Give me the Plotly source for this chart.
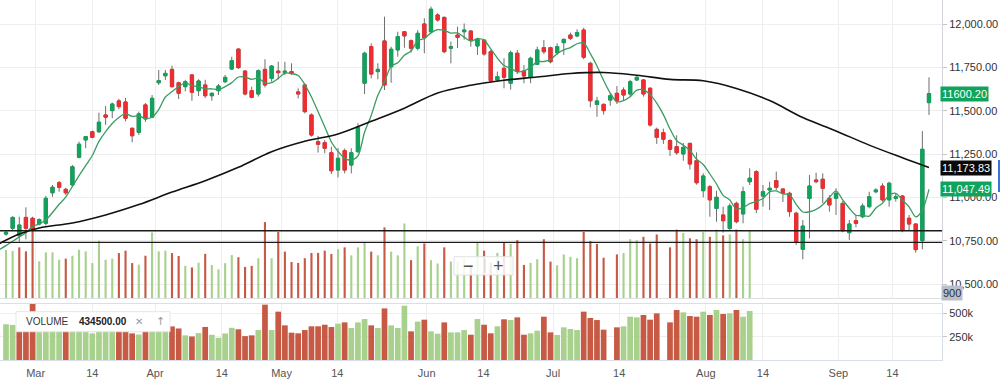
import plotly.graph_objects as go
import pandas as pd

# ---------------- data ----------------
open_ = [10790, 10823, 10780, 10886, 10881, 10848, 10852, 11028, 11086, 11048,
         11073, 11233, 11333, 11380, 11380, 11477, 11502, 11558, 11552, 11400,
         11377, 11535, 11464, 11663, 11703, 11740, 11663, 11640, 11708, 11617,
         11650, 11588, 11617, 11669, 11742, 11857, 11730, 11617, 11598, 11740,
         11688, 11730, 11721, 11727, 11610, 11650, 11477, 11323, 11317, 11259,
         11159, 11271, 11188, 11265, 11660, 11871, 11727, 11904, 11755, 11852,
         11957, 11905, 11862, 12002, 11957, 12054, 12040, 11862, 11938, 11957,
         11961, 11875, 11909, 11842, 11679, 11746, 11660, 11833, 11730, 11694,
         11769, 11865, 11865, 11836, 11894, 11938, 11933, 11967, 11775, 11538,
         11538, 11563, 11602, 11621, 11598, 11679, 11679, 11631, 11394, 11375,
         11329, 11294, 11252, 11313, 11213, 11040, 11063, 10938, 10900, 10823,
         10967, 10906, 11092, 11150, 11009, 11044, 11098, 11050, 11025, 10910,
         10702, 10995, 11102, 11106, 10996, 10996, 10967, 10798, 10867, 10890,
         10948, 11034, 11067, 10987, 10996, 11009, 10881, 10848, 10752, 11548]
high = [10810, 10892, 10890, 10944, 10890, 10880, 11010, 11073, 11096, 11057,
        11188, 11323, 11356, 11387, 11490, 11529, 11548, 11570, 11575, 11405,
        11496, 11546, 11592, 11736, 11736, 11761, 11669, 11680, 11713, 11683,
        11680, 11606, 11656, 11708, 11813, 11861, 11736, 11640, 11740, 11798,
        11765, 11784, 11784, 11775, 11630, 11660, 11486, 11356, 11333, 11294,
        11285, 11283, 11285, 11429, 11842, 11890, 11775, 12044, 11871, 11957,
        11957, 11913, 11966, 12035, 12102, 12064, 12044, 11900, 11986, 12005,
        11967, 11923, 11913, 11852, 11727, 11804, 11848, 11852, 11765, 11813,
        11871, 11909, 11871, 11890, 11919, 11952, 11971, 11980, 11784, 11582,
        11544, 11602, 11644, 11636, 11680, 11708, 11683, 11636, 11404, 11398,
        11337, 11360, 11315, 11317, 11261, 11140, 11073, 11040, 10948, 10967,
        10977, 11063, 11169, 11159, 11073, 11092, 11150, 11050, 11034, 10919,
        10871, 11131, 11144, 11140, 11015, 11054, 10980, 10871, 10900, 10967,
        11034, 11054, 11083, 11092, 11025, 11015, 10900, 10852, 11384, 11694]
low = [10780, 10810, 10746, 10760, 10805, 10840, 10840, 11005, 11034, 11015,
       11063, 11227, 11285, 11342, 11374, 11420, 11458, 11510, 11440, 11319,
       11362, 11437, 11458, 11650, 11679, 11636, 11569, 11613, 11559, 11586,
       11575, 11559, 11592, 11660, 11736, 11742, 11590, 11573, 11583, 11636,
       11669, 11683, 11707, 11707, 11573, 11486, 11352, 11260, 11256, 11136,
       11117, 11140, 11140, 11259, 11598, 11688, 11683, 11621, 11663, 11813,
       11865, 11838, 11850, 11833, 11948, 12015, 11833, 11775, 11863, 11911,
       11871, 11823, 11819, 11663, 11673, 11631, 11623, 11713, 11660, 11660,
       11765, 11829, 11775, 11823, 11823, 11909, 11925, 11798, 11521, 11467,
       11479, 11530, 11540, 11563, 11583, 11673, 11583, 11410, 11310, 11310,
       11240, 11248, 11213, 11163, 11075, 11002, 10890, 10861, 10798, 10813,
       10852, 10852, 11073, 10910, 10948, 10929, 11044, 10975, 10890, 10727,
       10644, 10765, 11083, 10969, 10919, 10900, 10800, 10756, 10829, 10881,
       10938, 11025, 10977, 10948, 10977, 10800, 10813, 10683, 10702, 11477]
close = [10800, 10886, 10842, 10823, 10819, 10873, 10996, 11060, 11060, 11028,
         11178, 11308, 11352, 11348, 11435, 11464, 11540, 11525, 11458, 11357,
         11483, 11454, 11573, 11675, 11717, 11640, 11602, 11669, 11608, 11673,
         11588, 11602, 11644, 11694, 11790, 11750, 11598, 11579, 11732, 11650,
         11759, 11721, 11730, 11717, 11598, 11496, 11361, 11308, 11285, 11155,
         11227, 11159, 11259, 11406, 11833, 11713, 11740, 11650, 11856, 11929,
         11933, 11862, 11948, 11923, 12087, 12025, 11842, 11871, 11925, 11967,
         11909, 11913, 11829, 11675, 11698, 11694, 11836, 11727, 11702, 11804,
         11852, 11842, 11784, 11871, 11913, 11919, 11952, 11810, 11559, 11558,
         11502, 11588, 11558, 11592, 11669, 11694, 11598, 11419, 11348, 11337,
         11279, 11259, 11290, 11194, 11086, 11125, 10987, 11002, 10867, 10952,
         10861, 11034, 11112, 10933, 11034, 11054, 11060, 11025, 10919, 10746,
         10836, 11067, 11092, 11054, 10958, 11025, 10809, 10848, 10852, 10952,
         11005, 11044, 10987, 11083, 11005, 10810, 10848, 10700, 11279, 11600.20]

# volume in thousands (None = no bar)
volume_k = [383, 376, 403, 373, 605, 298, 365, 365, 310, 318,
            340, 385, 373, 285, 453, 310, 318, 360, 378, 285,
            273, 340, 515, 373, 378, 360, 338, 264, 252, 288,
            354, 270, 238, 284, 345, 329, 256, 264, 321, 593,
            321, 518, 371, 293, 286, 321, 361, 361, 378, 353,
            389, 403, 343, 403, 439, 371, 343, 553, 371, 343,
            582, 307, 411, 432, 307, 282, 403, 296, 296, 321,
            271, 439, 378, 286, 361, 436, 428, 457, 271, 286,
            314, 464, 296, 268, 350, 332, 321, 518, 450, 428,
            325, None, 350, 361, 464, 457, 482, 432, 500, None,
            403, 536, 511, 471, 464, 518, 482, 536, 493, 500,
            536, 464, 525]
# g = up day, r = down day, - = no bar
volume_dir = ("ggrrrggggr" "gggggggrrr" "grgggrrgrg" "rggggrrrgr" "grrrrrrrrr"
              "grgggrgrgg" "grgrggrggg" "rgrrgrgrrg" "grrggggrrr" "r-rgggrrr-"
              "rrgrrgrgrg" "rgg")

# long moving average (black) read at sample positions
black_idx = [-1, 2, 5, 10, 15, 20, 25, 30, 35, 40, 45, 50, 55, 60, 65, 70, 75,
             80, 85, 90, 95, 100, 105, 110, 115, 120, 125, 130, 135, 139]
black_val = [10735, 10790, 10825, 10854, 10900, 10960, 11032, 11098, 11175,
             11265, 11325, 11367, 11440, 11516, 11604, 11648, 11677, 11696,
             11716, 11722, 11706, 11682, 11674, 11630, 11560, 11462, 11385,
             11303, 11230, 11173.83]

# short moving average: first points (before 5 visible closes exist)
ma_lead_idx = [-1, 0, 1, 2, 3]
ma_lead_val = [10700, 10723, 10748, 10773, 10797]
ma_last_label = 11047.49

hlines = [10809, 10742]

tick_pos = [4.47, 13.0, 22.45, 32.5, 41.5, 49.9, 63.35, 71.9, 82.4, 92.35,
            105.4, 114.0, 125.35, 133.5]
tick_text = ["Mar", "14", "Apr", "14", "May", "14", "Jun", "14", "Jul", "14",
             "Aug", "14", "Sep", "14"]
price_ticks = [10500, 10750, 11000, 11250, 11500, 11750, 12000]
vol_ticks = [250000, 500000]
vol_tick_text = ["250k", "500k"]
legend_name = "VOLUME"
legend_value = "434500.00"
cursor_label = "900"

# ---------------- styling ----------------
GREEN = "#10a35b"
RED = "#ee2d31"
WICK = "#6e6e6e"
VGREEN = "#a9d18e"
VRED = "#c65a45"
GRID = "#eeeeee"
FONT = "Liberation Sans, Arial, sans-serif"

n = len(close)
idx = list(range(n))
body_hi = [max(o, c) for o, c in zip(open_, close)]
body_lo = [min(o, c) for o, c in zip(open_, close)]

vol_x = [i for i, d in enumerate(volume_dir) if d != "-"]
vol_y = [volume_k[i] * 1000 for i in vol_x]
vol_c = [VGREEN if volume_dir[i] == "g" else VRED for i in vol_x]

ma = pd.Series(close).rolling(5).mean()
ma_x = ma_lead_idx + idx[4:]
ma_y = ma_lead_val + list(ma.iloc[4:])

fig = go.Figure()

# volume drawn faintly inside the price pane
fig.add_trace(go.Bar(x=vol_x, y=vol_y, marker=dict(color=vol_c, line=dict(width=0)),
                     width=0.32, xaxis="x", yaxis="y", hoverinfo="skip"))

# wicks
fig.add_trace(go.Candlestick(
    x=idx, open=open_, high=high, low=low, close=close, xaxis="x", yaxis="y2",
    increasing=dict(line=dict(color=WICK, width=1), fillcolor=WICK),
    decreasing=dict(line=dict(color=WICK, width=1), fillcolor=WICK),
    whiskerwidth=0, hoverinfo="skip"))
# coloured bodies
fig.add_trace(go.Candlestick(
    x=idx, open=open_, high=body_hi, low=body_lo, close=close, xaxis="x", yaxis="y2",
    increasing=dict(line=dict(color=GREEN, width=1), fillcolor=GREEN),
    decreasing=dict(line=dict(color=RED, width=1), fillcolor=RED),
    whiskerwidth=0, hoverinfo="skip"))

fig.add_trace(go.Scatter(x=ma_x, y=ma_y, mode="lines", xaxis="x", yaxis="y2",
                         line=dict(color="#3b9c60", width=1.3, shape="spline", smoothing=0.8),
                         hoverinfo="skip"))
fig.add_trace(go.Scatter(x=black_idx, y=black_val, mode="lines", xaxis="x", yaxis="y2",
                         line=dict(color="#111111", width=1.6, shape="spline", smoothing=1.0),
                         hoverinfo="skip"))

# lower volume pane
fig.add_trace(go.Bar(x=vol_x, y=vol_y, marker=dict(color=vol_c, line=dict(width=0)),
                     width=0.86, xaxis="x2", yaxis="y3", hoverinfo="skip"))

H_PLOT = 360.0
def py(pix):
    return (H_PLOT - pix) / H_PLOT
def px(pix):
    return pix / 942.0

shapes = []
for h in hlines:
    shapes.append(dict(type="line", xref="paper", yref="y2", x0=0, x1=1, y0=h, y1=h,
                       line=dict(color="#1a1a1a", width=1.4)))
# zoom control
shapes.append(dict(type="rect", xref="paper", yref="paper", x0=px(454), x1=px(513),
                   y0=py(275), y1=py(256.7), fillcolor="rgba(255,255,255,0.85)",
                   line=dict(color="#e2e2e2", width=1)))
shapes.append(dict(type="line", xref="paper", yref="paper", x0=px(485), x1=px(485),
                   y0=py(273), y1=py(259), line=dict(color="#d2d2d2", width=1)))
# legend box
shapes.append(dict(type="rect", xref="paper", yref="paper", x0=px(16), x1=px(170),
                   y0=py(331.7), y1=py(311.7), fillcolor="white",
                   line=dict(color="#e6e6e6", width=1)))
# small blue element at far right
shapes.append(dict(type="line", xref="paper", yref="paper", x0=px(999), x1=px(999),
                   y0=py(192), y1=py(160), line=dict(color="#3b73d9", width=2)))

ann = []
def price_tag(val, text, bg, fg="white"):
    return dict(xref="paper", yref="y2", x=1, y=val, xanchor="left", yanchor="middle",
                xshift=-2, text=text, showarrow=False, bgcolor=bg, borderpad=1,
                font=dict(family=FONT, size=11, color=fg))
def label(xp, yp, text, size, color, family=FONT, xanchor="center"):
    return dict(xref="paper", yref="paper", x=px(xp), y=py(yp), xanchor=xanchor,
                yanchor="middle", text=text, showarrow=False,
                font=dict(family=family, size=size, color=color))
ann.append(price_tag(close[-1], f"{close[-1]:.2f}", GREEN))
ann.append(price_tag(black_val[-1], f"{black_val[-1]:,.2f}", "#0a0a0a"))
ann.append(price_tag(ma_last_label, f"{ma_last_label:,.2f}", GREEN))
ann.append(dict(xref="paper", yref="paper", x=1, y=py(293), xanchor="left", yanchor="middle",
                xshift=-1, text=cursor_label, showarrow=False, bgcolor="#b9bfca", borderpad=1,
                font=dict(family=FONT, size=11, color="#2c323c")))
ann.append(label(468.5, 266, "−", 18, "#555555"))
ann.append(label(498.5, 266, "+", 18, "#555555"))
ann.append(label(24, 321.7, legend_name, 10, "#333333", xanchor="left"))
ann.append(label(77, 321.7, "<b>" + legend_value + "</b>", 10, "#222222", xanchor="left"))
ann.append(label(139, 321.7, "✕", 10, "#9a9a9a", family="DejaVu Sans"))
ann.append(label(160, 321.7, "↑", 11, "#9a9a9a", family="DejaVu Sans"))

xr = [-0.904, 140.96]
fig.update_layout(
    width=1000, height=387, margin=dict(l=0, r=58, t=0, b=27),
    paper_bgcolor="white", plot_bgcolor="white", showlegend=False,
    barmode="overlay", font=dict(family=FONT, size=11, color="#333333"),
    boxgap=0.3, boxgroupgap=0.3,
    xaxis=dict(domain=[0, 1], anchor="y", range=xr, tickvals=tick_pos, showticklabels=False,
               showgrid=True, gridcolor=GRID, zeroline=False, showline=True,
               linecolor="#dde1e6", ticks="", rangeslider=dict(visible=False), fixedrange=True),
    yaxis=dict(domain=[(H_PLOT - 298) / H_PLOT, 1], range=[22500, 2261000], visible=False,
               showgrid=False, fixedrange=True),
    yaxis2=dict(overlaying="y", side="right", anchor="x", range=[10421, 12140.2],
                tickvals=price_ticks, ticktext=[f"{v:,.2f}" for v in price_ticks],
                showgrid=True, gridcolor=GRID, ticks="outside", ticklen=4, tickcolor="#c4c4c4",
                showline=True, linecolor="#d0d4da", zeroline=False,
                tickfont=dict(family=FONT, size=11, color="#333333"), fixedrange=True),
    xaxis2=dict(domain=[0, 1], anchor="y3", matches="x", range=xr, tickvals=tick_pos,
                ticktext=tick_text, tickfont=dict(family=FONT, size=11, color="#555555"),
                showgrid=True, gridcolor=GRID, zeroline=False, showline=True, mirror=True,
                linecolor="#d9dfe6", ticks="outside", ticklen=3, tickcolor="rgba(0,0,0,0)",
                fixedrange=True),
    yaxis3=dict(domain=[0, (H_PLOT - 304) / H_PLOT], anchor="x2", side="right",
                range=[0, 600000], tickvals=vol_ticks, ticktext=vol_tick_text,
                showgrid=True, gridcolor=GRID, ticks="outside", ticklen=4, tickcolor="#c4c4c4",
                showline=True, linecolor="#d9dfe6", zeroline=False,
                tickfont=dict(family=FONT, size=11, color="#333333"), fixedrange=True),
    shapes=shapes, annotations=ann,
)

fig.write_html("out.html", config={"displayModeBar": False},
               post_script="document.body.style.margin='0';document.body.style.overflow='hidden';")
